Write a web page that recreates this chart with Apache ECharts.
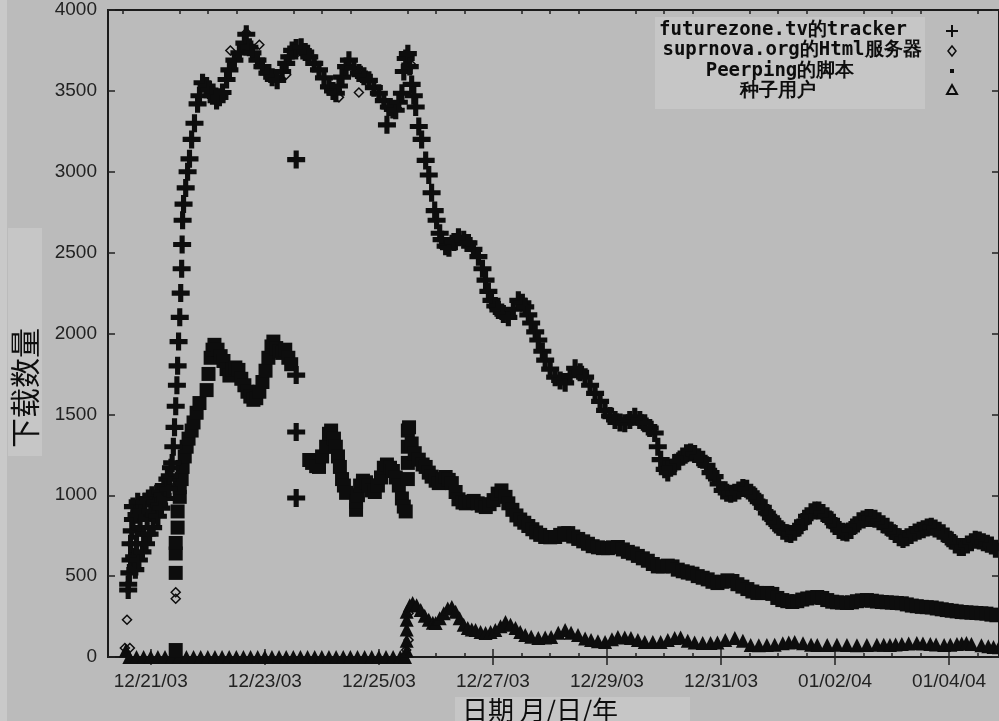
<!DOCTYPE html>
<html><head><meta charset="utf-8">
<script src="https://cdn.jsdelivr.net/npm/echarts@6/dist/echarts.min.js"></script>
<style>html,body{margin:0;padding:0;background:#bbbbbb}#c{width:999px;height:721px}</style>
</head><body><div id="c"></div>
<script>
// time axis: hours since 12/20/03 00:00
const majorTicks = [24, 72, 120, 168, 216, 264, 312, 360];
const tickLabels = ['12/21/03', '12/23/03', '12/25/03', '12/27/03', '12/29/03', '12/31/03', '01/02/04', '01/04/04'];
const minorTicks = [12, 36, 48, 60, 84, 96, 108, 132, 144, 156, 180, 192, 204, 228, 240, 252, 276, 288, 300, 324, 336, 348, 372];
const yTicks = [0, 500, 1000, 1500, 2000, 2500, 3000, 3500, 4000];
const seriesNames = ['futurezone.tv的tracker', 'suprnova.org的Html服务器', 'Peerping的脚本', '种子用户'];

const trackerPts = [
[14.5,414],[14.5,450],[15,520],[15.5,600],[15.5,700],[16,780],[16.5,850],[16.5,930],[17,620],[17.5,540],[18,700],[18,880],[18.5,960],[19,600],[19.5,800],[20,900],[20.5,650],[21,760],[21.5,960],[22,700],[22.5,850],[23,980],[23.5,760],[24,900],[24.5,1000],[25,800],[25.5,880],[26,960],[26.5,1010],[27,870],[27.5,940],[28,1020],[28.5,920],[29,1000],[29.5,1060],[30,980],[30.5,1050],[31,1100],[31.5,1040],[32,1120],[32.5,1170],
[33,1200],[33.5,1300],[34,1420],[34.5,1550],[35,1680],[35.3,1800],[35.7,1950],[36.2,2100],[36.6,2250],[37,2400],[37.2,2550],[37.4,2700],[37.8,2800],[38.7,2900],[39.5,3000],[40.3,3080],[41.2,3200],[42.4,3300],[43.7,3420],[44.5,3470],
[45.8,3550],[47.5,3530],[48.7,3505],[50,3470],[51.7,3440],[52.9,3460],[54.2,3490],[55.9,3570],[57.1,3630],[59.2,3690],[61.3,3735],[63.4,3795],[64.2,3850],[65.5,3770],[66.8,3735],[68.9,3690],[71,3650],[73.1,3610],[75.1,3585],[77.2,3565],[79.3,3620],[81,3670],[82.3,3710],[83.5,3750],[85.2,3765],[87.3,3770],[89,3740],[90.7,3710],[92.8,3670],[94.8,3630],[96.9,3580],[99,3525],[100.7,3500],[101.9,3485],[103.2,3530],[104.5,3585],[106.2,3650],[107.4,3690],[109.5,3640],[111.6,3610],[113.7,3590],[115.8,3565],[117.9,3520],[120,3485],[122.1,3440],[124.2,3400],[125.9,3385],[127.1,3380],[128.4,3430],[129.7,3485],[130.5,3620],[131.3,3700],[132.2,3730],[133,3650],[133.8,3540],[134.7,3470],[135.5,3400],[136.8,3280],[138,3200],[139.7,3070],[141,2980],[142.2,2870],[143.5,2760],[144.3,2700],[145.6,2620],[146.4,2580],[148.1,2540],[149.5,2530],[151.6,2565],[153.5,2595],[155.7,2580],[157.7,2560],[159.8,2520],[161.9,2475],[163.6,2400],[164.9,2330],[166.1,2260],[167.4,2205],[169,2170],[170.3,2145],[172.4,2120],[174.5,2100],[176.6,2150],[178.7,2205],[180.4,2190],[181.6,2165],[182.9,2115],[184.1,2065],[185.8,2010],[187.1,1960],[188.8,1890],[190,1835],[192.1,1780],[194.2,1730],[196.3,1710],[198.4,1695],[200.5,1740],[202.6,1785],[204.7,1760],[206.8,1730],[208.9,1680],[211,1630],[213.1,1580],[215.2,1525],[217.3,1490],[219.4,1465],[221.5,1450],[223.5,1445],[225.6,1465],[227.7,1485],[229.8,1465],[231.9,1445],[234,1415],[236.1,1385],[237.4,1300],[238.6,1220],[240.3,1160],[241.6,1140],[242.8,1170],[244.5,1200],[246.2,1210],[247.9,1240],[249.5,1260],[251.2,1265],[252.9,1255],[254.6,1235],[256.3,1220],[257.9,1185],[259.6,1140],[261.3,1115],[263,1070],[264.7,1030],[266.4,1015],[268.1,1010],[269.8,1015],[271.5,1030],[273.2,1045],[274.8,1040],[276.5,1015],[278.2,990],[279.9,960],[281.6,925],[283.3,890],[285,860],[286.6,830],[288.3,805],[290,780],[291.7,765],[293.4,760],[295,775],[296.8,800],[298.5,835],[300.2,870],[301.9,895],[303.5,905],[305.2,905],[306.9,890],[308.6,870],[310.3,845],[312,810],[313.7,785],[315.3,775],[317,770],[318.7,785],[320.4,815],[322.1,840],[323.8,850],[325.5,860],[327.1,860],[328.8,855],[330.5,840],[332.2,820],[333.9,805],[335.6,780],[337.3,760],[339,740],[340.6,730],[342.3,740],[344,755],[345.7,770],[347.4,780],[349.1,790],[350.8,800],[352.5,805],[354.1,795],[355.8,780],[357.5,765],[359.2,745],[360.9,720],[362.6,695],[364.3,680],[366,680],[367.7,695],[369.4,710],[371,725],[372.7,720],[374.4,710],[376.1,700],[377.8,690],[379.5,670],[381.2,660],
[85.2,3075],[85.2,1743],[85.2,1391],[85.2,983],[123.4,3290]
];

const suprnovaPts = [
[13.1,56],[14,230],[15.2,56],[34.5,360],[34.5,400],[57.5,3750],[64.2,3860],[69.7,3785],[81,3600],[103.2,3460],[111.6,3490],[133.8,3660],[131.5,43],[132.5,270],[132.5,105]
];

const peerpingPts = [
[34.5,43],[34.5,520],[34.5,640],[34.5,705],
[35.3,800],[35.3,900],[36.2,990],[36.2,1050],[37,1100],[37.4,1175],[38.3,1240],[39.1,1300],[39.9,1350],[41.2,1400],[42,1450],[43.3,1510],[44.5,1570],
[47.5,1650],[48.3,1750],[49.2,1850],[50,1900],[50.8,1930],[52.1,1900],[53.4,1860],[54.6,1830],[55.9,1780],[57.1,1740],[58.4,1780],[59.6,1790],[60.9,1775],[62.1,1720],[63.4,1680],[64.7,1640],[65.9,1610],[67.2,1590],[68.4,1600],[69.7,1640],[71,1700],[72.3,1770],[73.5,1850],[74.8,1920],[75.6,1950],[76.8,1910],[78.1,1890],[79.3,1880],[80.6,1900],[81.9,1850],[83.1,1810],
[90.7,1218],[91.9,1200],[93.6,1180],[94.8,1175],[96.1,1240],[97.8,1300],[99,1380],[99.9,1400],[101.1,1350],[101.9,1300],[102.8,1240],[103.6,1175],[104.5,1100],[105.3,1060],[106.2,1015],
[110.4,910],[110.4,960],[111.2,1000],[112.1,1060],[113.3,1090],[114.6,1080],[115.8,1060],[117.1,1030],[118.3,1020],[119.6,1060],[120.9,1110],[122.1,1170],[123.4,1190],[124.7,1170],[125.9,1150],[127.1,1110],[128.4,1060],[129.7,980],[130.5,930],[131.3,900],
[132.2,1100],[132.2,1200],[132.2,1300],[132.2,1400],[132.7,1420],[133.8,1320],[135.1,1260],[136.8,1220],[138.4,1190],[139.7,1175],[141,1140],[142.2,1115],[143.9,1090],[145.2,1075],[146.9,1100],[148.1,1113],[149.4,1095],[150.7,1075],[152.3,1020],[153.5,975],[155.2,955],[156.6,950],[158.3,960],[159.9,965],[161.6,950],[163.3,935],[165,927],[166.6,945],[168.3,970],[170,1010],[171.6,1030],[173.3,990],[174.5,950],[176.2,910],[177.9,875],[179.5,850],[181.2,830],[182.9,810],[184.6,790],[186.2,770],[187.9,755],[190,742],[192.1,740],[194.2,742],[196.3,755],[198,765],[199.7,766],[201.8,745],[203.9,730],[206,715],[208,700],[210,685],[212.2,678],[214.3,673],[216.4,673],[218.5,678],[220.6,680],[222.7,665],[224.8,650],[226.9,640],[229,625],[231.1,610],[233.2,595],[235.3,575],[237.4,560],[239.5,560],[241.6,565],[243.6,560],[245.8,540],[247.9,530],[250,522],[252,515],[254.2,500],[256.3,490],[258.4,480],[260.4,465],[262.5,457],[264.6,465],[266.7,474],[268.8,470],[270.9,450],[273,435],[275.1,420],[277.2,405],[279.3,396],[281.4,395],[283.5,396],[285.6,390],[287.7,365],[289.8,352],[291.9,345],[294,340],[296.1,345],[298.2,355],[300.3,362],[302.4,368],[304.5,371],[306.6,365],[308.7,352],[310.8,342],[312.8,338],[314.9,336],[317,334],[319.1,338],[321.2,345],[323.3,350],[325.4,352],[327.5,348],[329.6,343],[331.7,340],[333.8,338],[335.9,336],[338,334],[340.1,332],[342.2,325],[344.3,318],[346.4,314],[348.5,310],[350.6,308],[352.7,306],[354.8,300],[356.9,295],[359,290],[361.1,286],[363.2,282],[365.3,278],[367.3,276],[369.4,274],[371.5,272],[373.6,270],[375.7,268],[377.8,262],[379.9,258]
];

const seedPts = [
[13.5,40],[15,0],[18,0],[21,0],[24,0],[27,0],[30,0],[33,0],[36,0],[39,0],[42,0],[45,0],[48,0],[51,0],[54,0],[57,0],[60,0],[63,0],[66,0],[69,0],[72,0],[75,0],[78,0],[81,0],[84,0],[87,0],[90,0],[93,0],[96,0],[99,0],[102,0],[105,0],[108,0],[111,0],[114,0],[117,0],[120,0],[123,0],[126,0],[129,0],[131,0],
[131.7,40],[131.7,100],[131.7,170],[131.7,230],[131.7,280],[133,320],[134.2,334],[135.9,320],[137.6,290],[139.3,255],[141,230],[142.7,212],[143.9,210],[145.6,240],[147.3,270],[149,300],[150.7,309],[152.3,280],[154,240],[155.7,200],[157.4,180],[159.1,170],[160.7,167],[162.8,155],[164.9,148],[167,155],[169,167],[171.2,190],[173.3,216],[175.4,200],[177.5,179],[179.5,155],[181.6,136],[184.1,125],[187.1,117],[190,120],[192.5,124],[195.5,150],[198.4,167],[200.9,150],[203.8,136],[206.8,115],[209.3,105],[212.2,98],[215.2,93],[218.1,110],[220.6,124],[223.5,120],[226.1,117],[229,105],[231.9,93],[235.3,93],[238.6,93],[241.6,105],[244.5,117],[247,120],[250,100],[252.9,90],[256.3,87],[259.6,87],[262.5,90],[265.8,105],[269.8,117],[273.2,100],[276.5,74],[279.9,72],[283.3,74],[286.6,76],[290,85],[292.5,90],[295,93],[298.5,85],[301.9,76],[304.5,74],[308.7,74],[312.8,76],[317,74],[321.2,72],[325.4,74],[329.6,76],[332.5,75],[335.1,74],[337.5,77],[340.1,80],[343,84],[346.4,87],[349,84],[352.1,80],[354.5,77],[357.9,74],[360.5,76],[363.3,80],[365.3,84],[367.3,87],[369.4,80],[373.6,72],[376.5,66],[378.7,62],[381,60]
];

const X_MIN = 6, X_MAX = 381;
const INK = '#0d0d0d';
const BG = '#bbbbbb';
const BOX = '#c6c6c6';
const plusPath = 'path://M5,0h4v5h5v4h-5v5h-4v-5h-5v-4h5z';
const LABEL_FONT = '"Liberation Sans", Arial, sans-serif';

function tickAxis(pos, values, len, withLabels) {
  return {
    type: 'value', position: pos, min: X_MIN, max: X_MAX,
    axisLine: { show: false },
    splitLine: { show: false },
    axisTick: { show: true, inside: true, length: len, customValues: values, lineStyle: { color: '#222', width: 1.5 } },
    axisLabel: withLabels ? {
      show: true, customValues: majorTicks, margin: 15,
      color: '#222', fontSize: 19, fontFamily: LABEL_FONT,
      formatter: v => tickLabels[majorTicks.indexOf(v)] || ''
    } : { show: false }
  };
}

function yAxis(pos, withLabels) {
  return {
    type: 'value', position: pos, min: 0, max: 4000, interval: 500,
    axisLine: { show: false }, splitLine: { show: false },
    axisTick: { show: true, inside: true, length: 7, lineStyle: { color: '#222', width: 1.5 } },
    axisLabel: withLabels ? { show: true, margin: 11, color: '#222', fontSize: 19,
      fontFamily: LABEL_FONT, formatter: v => String(v) } : { show: false }
  };
}

const chart = echarts.init(document.getElementById('c'), null, { renderer: 'canvas' });
chart.setOption({
  animation: false,
  backgroundColor: BG,
  grid: { left: 108, top: 10, right: -4, bottom: 64, show: true, backgroundColor: BG, borderColor: '#1a1a1a', borderWidth: 2 },
  xAxis: [
    tickAxis('bottom', majorTicks, 8, true),
    tickAxis('top', majorTicks, 8, false),
    tickAxis('bottom', minorTicks, 4, false),
    tickAxis('top', minorTicks, 4, false)
  ],
  yAxis: [ yAxis('left', true), yAxis('right', false) ],
  series: [
    { name: seriesNames[3], type: 'scatter', data: seedPts, symbol: 'triangle', symbolSize: 14,
      itemStyle: { color: INK, opacity: 1 }, clip: true, z: 2 },
    { name: seriesNames[2], type: 'scatter', data: peerpingPts, symbol: 'rect', symbolSize: 14,
      itemStyle: { color: INK, opacity: 1 }, clip: true, z: 2 },
    { name: seriesNames[0], type: 'scatter', data: trackerPts, symbol: plusPath, symbolSize: 18,
      itemStyle: { color: INK, opacity: 1 }, clip: true, z: 3 },
    { name: seriesNames[1], type: 'scatter', data: suprnovaPts, symbol: 'diamond', symbolSize: 9,
      itemStyle: { color: 'rgba(0,0,0,0)', borderColor: INK, borderWidth: 1.5, opacity: 1 }, clip: true, z: 4 }
  ],
  graphic: [
    { type: 'rect', z: 1, shape: { x: 0, y: 0, width: 7, height: 721 }, style: { fill: '#c9c9c9' } },
    { type: 'rect', z: 1, shape: { x: 8, y: 228, width: 34, height: 228 }, style: { fill: BOX } },
    { type: 'text', z: 5, x: 25, y: 388, rotation: Math.PI / 2,
      style: { text: '下载数量', font: '30px "Noto Sans CJK SC", sans-serif', fill: INK, textAlign: 'center', textVerticalAlign: 'middle' } },
    { type: 'rect', z: 1, shape: { x: 455, y: 697, width: 235, height: 24 }, style: { fill: BOX } },
    { type: 'text', z: 5, x: 540, y: 710,
      style: { text: '日期 月/日/年', font: '26px "Noto Sans CJK SC", sans-serif', fill: INK, textAlign: 'center', textVerticalAlign: 'middle' } },
    { type: 'group', z: 50, children: [
      { type: 'rect', shape: { x: 655, y: 17, width: 270, height: 92 }, style: { fill: BOX } },
      { type: 'text', x: 783, y: 30, style: { text: seriesNames[0], font: 'bold 19px "DejaVu Sans Mono", monospace', fill: INK, textAlign: 'center', textVerticalAlign: 'middle' } },
      { type: 'text', x: 792, y: 50, style: { text: seriesNames[1], font: 'bold 19px "DejaVu Sans Mono", monospace', fill: INK, textAlign: 'center', textVerticalAlign: 'middle' } },
      { type: 'text', x: 780, y: 71, style: { text: seriesNames[2], font: 'bold 19px "DejaVu Sans Mono", monospace', fill: INK, textAlign: 'center', textVerticalAlign: 'middle' } },
      { type: 'text', x: 778, y: 91, style: { text: seriesNames[3], font: 'bold 19px "DejaVu Sans Mono", monospace', fill: INK, textAlign: 'center', textVerticalAlign: 'middle' } },
      { type: 'line', shape: { x1: 946, y1: 31, x2: 958, y2: 31 }, style: { stroke: INK, lineWidth: 2 } },
      { type: 'line', shape: { x1: 952, y1: 25, x2: 952, y2: 37 }, style: { stroke: INK, lineWidth: 2 } },
      { type: 'polygon', shape: { points: [[952, 46], [956, 51], [952, 56], [948, 51]] }, style: { fill: 'none', stroke: INK, lineWidth: 1.5 } },
      { type: 'rect', shape: { x: 950, y: 69, width: 4, height: 4 }, style: { fill: INK } },
      { type: 'polygon', shape: { points: [[952, 85], [957, 94], [947, 94]] }, style: { fill: 'none', stroke: INK, lineWidth: 2 } }
    ] }
  ]
});
</script>
</body></html>
